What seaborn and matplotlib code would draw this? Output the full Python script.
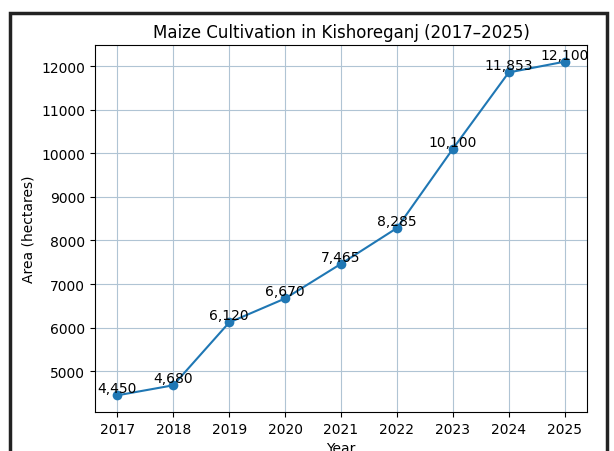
"""Maize cultivation area in Kishoreganj, 2017-2025."""

import matplotlib

matplotlib.use("Agg")
import matplotlib.pyplot as plt
import pandas as pd
import seaborn as sns
from matplotlib.patches import Rectangle

YEARS = [2017, 2018, 2019, 2020, 2021, 2022, 2023, 2024, 2025]
AREA_HA = [4450, 4680, 6120, 6670, 7465, 8285, 10100, 11853, 12100]

df = pd.DataFrame({"year": YEARS, "area": AREA_HA})

fig = plt.figure(figsize=(6.14, 4.52), dpi=100)
ax = fig.add_axes([95 / 614, 1 - 413 / 452, 492 / 614, 367 / 452])

sns.lineplot(data=df, x="year", y="area", marker="o", color="#1f77b4",
             markersize=7, markeredgewidth=0, ax=ax)

for year, area in zip(YEARS, AREA_HA):
    ax.text(year, area, f"{area:,}", ha="center", va="bottom", fontsize=10)

ax.set_xticks(YEARS)
ax.set_title("Maize Cultivation in Kishoreganj (2017–2025)", fontsize=12)
ax.set_xlabel("Year")
ax.set_ylabel("Area (hectares)")
ax.grid(True, color="#b0c4d4")

# scanned page frame (bottom edge is cut off)
frame = Rectangle((10 / 614, -0.1), 597 / 614, 1.1 - 14 / 452, transform=fig.transFigure,
                  fill=False, edgecolor="#222222", linewidth=2.5)
fig.patches.append(frame)

fig.savefig("out.png", dpi=100)
plt.close(fig)
